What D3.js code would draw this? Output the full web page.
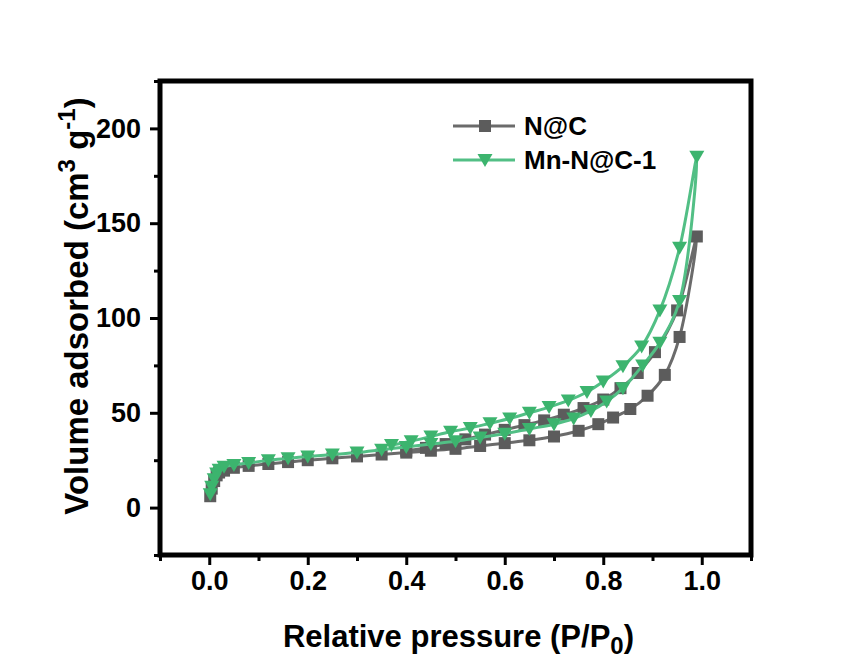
<!DOCTYPE html>
<html><head><meta charset="utf-8">
<script src="https://cdn.jsdelivr.net/npm/d3@7"></script>
<style>body{margin:0;background:#fff;} text{font-family:"Liberation Sans",Arial,sans-serif;font-weight:bold;}</style>
</head><body>
<svg id="c" width="858" height="659"></svg>
<script>
// Data (P/P0, volume adsorbed) — adsorption then desorption branch
const ncX = [0.002,0.005,0.01,0.015,0.02,0.03,0.05,0.08,0.12,0.16,0.2,0.25,0.3,0.35,0.4,0.45,0.5,0.55,0.6,0.65,0.7,0.75,0.79,0.82,0.855,0.89,0.925,0.955,0.99,
             0.95,0.905,0.87,0.835,0.8,0.76,0.72,0.68,0.64,0.6,0.56,0.52,0.48,0.44,0.4];
const ncY = [6,10,14,17,18.5,19.5,21,22,23,24,25,26,27,28,29,30,31,32.5,34,35.5,37.5,40.5,44,47.5,52,59,70,90,143,
             104,82,71,63,57,52.5,49,46,43.5,41,38.5,36,33.5,31.5,30];
const mnX = [0.002,0.005,0.01,0.015,0.02,0.03,0.05,0.08,0.12,0.16,0.2,0.25,0.3,0.35,0.4,0.45,0.5,0.55,0.6,0.65,0.7,0.74,0.775,0.807,0.84,0.88,0.915,0.955,0.99,
             0.955,0.915,0.878,0.84,0.8,0.767,0.729,0.69,0.65,0.61,0.57,0.53,0.49,0.45,0.41,0.37];
const mnY = [7,11,15,18,20,21.5,22.5,23.5,25,26,27,28,29,30.5,32,33.5,35,37,39,41.5,44,47,51,56,63,75,87,109,185,
             137,104,85,74.5,66.5,61,56.5,53,50,47,44.5,42,40,37.5,35,33];
const seriesNames = ["N@C","Mn-N@C-1"];
const xTicks = [0,0.2,0.4,0.6,0.8,1.0];
const xMinor = [-0.1,0.1,0.3,0.5,0.7,0.9,1.1];
const yTicks = [0,50,100,150,200];
const yMinor = [-25,25,75,125,175,225];

const svg = d3.select("#c");
const L=160,R=751,T=81,B=555;
const x = d3.scaleLinear().domain([-0.1,1.1]).range([L,R]);
const y = d3.scaleLinear().domain([-25,225]).range([B,T]);

const series = [
  {name:seriesNames[0], xs:ncX, ys:ncY, line:"#6b6b6b", fill:"#5c5c5c", shape:"square"},
  {name:seriesNames[1], xs:mnX, ys:mnY, line:"#52bf85", fill:"#3cb46e", shape:"tri"}
];

const lineGen = d3.line().x(d=>x(d[0])).y(d=>y(d[1])).curve(d3.curveCatmullRom.alpha(0.5));
function marker(g, shape, fill, cx, cy){
  if(shape==="square"){
    g.append("rect").attr("x",cx-6).attr("y",cy-6).attr("width",12).attr("height",12).attr("fill",fill);
  } else {
    g.append("path").attr("d",`M${cx-7.5},${cy-6}L${cx+7.5},${cy-6}L${cx},${cy+7}Z`).attr("fill",fill);
  }
}
series.forEach(s=>{
  const pts = s.xs.map((v,i)=>[v,s.ys[i]]);
  const g = svg.append("g");
  g.append("path").attr("d",lineGen(pts)).attr("fill","none").attr("stroke",s.line).attr("stroke-width",3);
  pts.forEach(p=>marker(g,s.shape,s.fill,x(p[0]),y(p[1])));
});

// Frame
svg.append("rect").attr("x",L).attr("y",T).attr("width",R-L).attr("height",B-T)
  .attr("fill","none").attr("stroke","#000").attr("stroke-width",5);

const FF = "Liberation Sans, Arial, sans-serif";
// X axis ticks
const xa = d3.axisBottom(x).tickValues(xTicks).tickSize(8).tickFormat(d3.format(".1f"));
const gx = svg.append("g").attr("transform",`translate(0,${B+2})`).call(xa);
gx.select(".domain").remove();
gx.selectAll(".tick line").attr("stroke","#000").attr("stroke-width",3);
gx.selectAll(".tick text").attr("font-size",27).attr("fill","#000").attr("y",14).attr("dy","0.71em")
  .attr("font-family",FF).attr("font-weight","bold");
const gxm = svg.append("g").attr("transform",`translate(0,${B+2})`).call(d3.axisBottom(x).tickValues(xMinor).tickSize(4).tickFormat(""));
gxm.select(".domain").remove();
gxm.selectAll(".tick line").attr("stroke","#000").attr("stroke-width",3);

// Y axis ticks
const ya = d3.axisLeft(y).tickValues(yTicks).tickSize(8).tickFormat(d3.format("d"));
const gy = svg.append("g").attr("transform",`translate(${L-2},0)`).call(ya);
gy.select(".domain").remove();
gy.selectAll(".tick line").attr("stroke","#000").attr("stroke-width",3);
gy.selectAll(".tick text").attr("font-size",27).attr("fill","#000").attr("x",-17)
  .attr("font-family",FF).attr("font-weight","bold");
const gym = svg.append("g").attr("transform",`translate(${L-2},0)`).call(d3.axisLeft(y).tickValues(yMinor).tickSize(4).tickFormat(""));
gym.select(".domain").remove();
gym.selectAll(".tick line").attr("stroke","#000").attr("stroke-width",3);

// Axis titles
const xt = svg.append("text").attr("x",(L+R)/2+3).attr("y",647).attr("text-anchor","middle").attr("font-size",31).attr("fill","#000");
xt.append("tspan").text("Relative pressure (P/P");
xt.append("tspan").attr("font-size",24).attr("dy",7).text("0");
xt.append("tspan").attr("dy",-7).text(")");

const yt = svg.append("text").attr("transform",`translate(88,306) rotate(-90)`).attr("text-anchor","middle").attr("font-size",33).attr("fill","#000");
yt.append("tspan").text("Volume adsorbed (cm");
yt.append("tspan").attr("font-size",24).attr("dy",-13).text("3");
yt.append("tspan").attr("dy",13).text(" g");
yt.append("tspan").attr("font-size",24).attr("dy",-13).text("-1");
yt.append("tspan").attr("dy",13).text(")");

// Legend
const lg = svg.append("g");
series.forEach((s,i)=>{
  const ly = 126 + i*34;
  lg.append("line").attr("x1",453).attr("x2",515).attr("y1",ly).attr("y2",ly).attr("stroke",s.line).attr("stroke-width",3);
  marker(lg,s.shape,s.fill,485,ly);
  lg.append("text").attr("x",524).attr("y",ly+9).attr("font-size",26).attr("fill","#000").text(s.name);
});
</script>
</body></html>
